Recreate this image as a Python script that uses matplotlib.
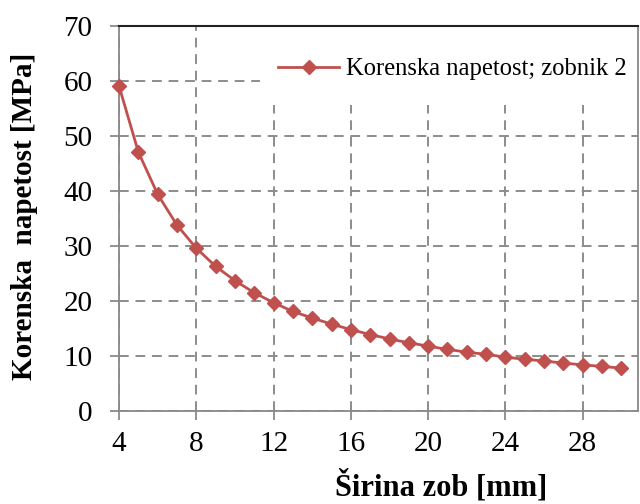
import matplotlib
matplotlib.use("Agg")
import matplotlib.pyplot as plt
from matplotlib.patches import Rectangle

width_mm = [4, 5, 6, 7, 8, 9, 10, 11, 12, 13, 14, 15, 16, 17, 18, 19, 20,
            21, 22, 23, 24, 25, 26, 27, 28, 29, 30]
stress = [59.1, 47.1, 39.4, 33.8, 29.6, 26.3, 23.7, 21.5, 19.7, 18.1, 16.9,
          15.8, 14.8, 13.9, 13.1, 12.4, 11.8, 11.2, 10.7, 10.3, 9.8, 9.4,
          9.1, 8.7, 8.4, 8.1, 7.8]
series_label = "Korenska napetost; zobnik 2"
xticks = [4, 8, 12, 16, 20, 24, 28]
yticks = [0, 10, 20, 30, 40, 50, 60, 70]

plt.rcParams['font.family'] = ['Liberation Serif', 'DejaVu Serif']

W, H = 640, 504
L, R, T, B = 119, 638, 26, 411
fig = plt.figure(figsize=(6.4, 5.04), dpi=100)
ax = fig.add_axes([L/W, 1-B/H, (R-L)/W, (B-T)/H])

red = '#C0504D'
ax.plot(width_mm, stress, color=red, lw=2, marker='D', markersize=6.8,
        label=series_label, zorder=3, clip_on=False)

ax.set_xlim(4, 30.86)
ax.set_ylim(0, 70)
ax.set_xticks(xticks)
ax.set_yticks(yticks)
ax.tick_params(labelsize=21, colors='#808080', labelcolor='black',
               length=6.5, width=1.2, direction='out')
ax.tick_params(axis='y', pad=12.5)
ax.tick_params(axis='x', pad=8)

ax.grid(True, color='#8c8c8c', linestyle=(0, (5, 3.5)), linewidth=1.4, zorder=1)
ax.set_axisbelow(True)

for s in ['left', 'bottom', 'right']:
    ax.spines[s].set_color('#888888')
    ax.spines[s].set_linewidth(1.3)
ax.spines['top'].set_color('#222222')
ax.spines['top'].set_linewidth(1.5)

ax.set_ylabel('Korenska  napetost [MPa]', fontsize=21, fontweight='bold')
ax.yaxis.set_label_coords((38 - L) / (R - L), (B - 216) / (B - T))
ax.set_xlabel('Širina zob [mm]', fontsize=22, fontweight='bold')
ax.xaxis.set_label_coords((441 - L) / (R - L), (B - 470) / (B - T))

# white legend background (hides grid behind legend)
ax.add_patch(Rectangle(((260 - L) / (R - L), (B - 105) / (B - T)),
                       (R - 260) / (R - L), (105 - T) / (B - T),
                       transform=ax.transAxes, facecolor='white',
                       edgecolor='none', zorder=2))

leg = ax.legend(loc='center left',
                bbox_to_anchor=((278 - L) / (R - L), (B - 69) / (B - T)),
                fontsize=17.7, frameon=False, handlelength=2.5,
                borderaxespad=0, borderpad=0, handletextpad=0.25)

fig.savefig('out.png', dpi=100)
